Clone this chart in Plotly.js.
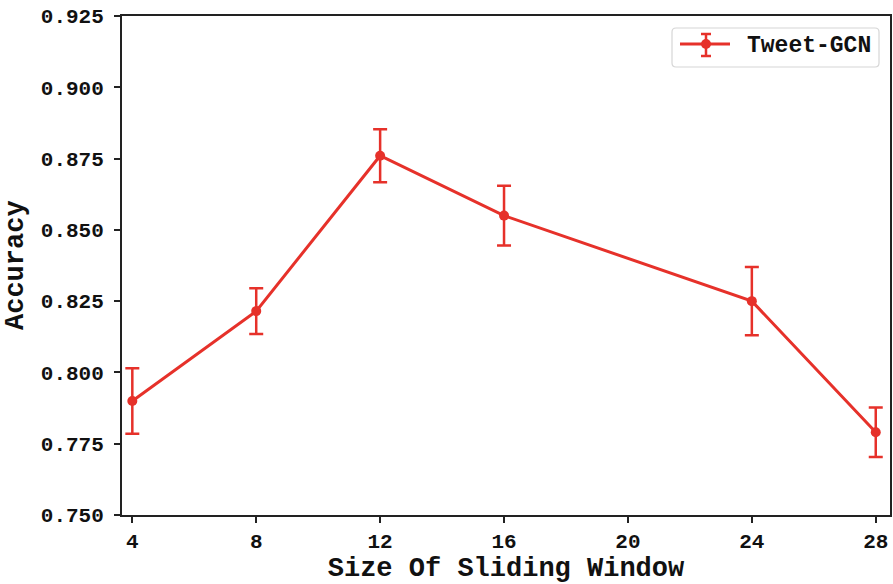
<!DOCTYPE html>
<html>
<head>
<meta charset="utf-8">
<script src="https://cdn.plot.ly/plotly-3.0.1.min.js"></script>
<style>
html,body{margin:0;padding:0;background:#fff;}
#chart{width:893px;height:584px;}
</style>
</head>
<body>
<div id="chart"></div>
<script>
var windowSizes = [4, 8, 12, 16, 24, 28];
var accuracy = [0.790, 0.8215, 0.876, 0.855, 0.825, 0.779];
var accuracyErr = [0.0115, 0.008, 0.0093, 0.0105, 0.012, 0.0087];
var xTicks = [4, 8, 12, 16, 20, 24, 28];
var yTicks = [0.750, 0.775, 0.800, 0.825, 0.850, 0.875, 0.900, 0.925];
var seriesName = 'Tweet-GCN';
var xTitle = 'Size Of Sliding Window';
var yTitle = 'Accuracy';

var red = '#e6312a';
var fontFam = '"Liberation Mono", "Courier New", monospace';

var W = 893, H = 584, M = {l: 122, r: 3, t: 16, b: 69};
var PW = W - M.l - M.r, PH = H - M.t - M.b;
function px(x) { return (x - M.l) / PW; }
function py(y) { return 1 - (y - M.t) / PH; }

var trace = {
  x: windowSizes,
  y: accuracy,
  name: seriesName,
  type: 'scatter',
  mode: 'lines+markers',
  line: {color: red, width: 3},
  marker: {color: red, size: 10},
  error_y: {type: 'data', array: accuracyErr, visible: true, color: red, thickness: 2.5, width: 7},
  showlegend: false
};

// manual legend (box with rounded corners, errorbar glyph, label)
var bx0 = 672, bx1 = 879, by0 = 28, by1 = 67, r = 4;
var boxPath = 'M' + px(bx0 + r) + ',' + py(by0) +
  ' L' + px(bx1 - r) + ',' + py(by0) +
  ' Q' + px(bx1) + ',' + py(by0) + ' ' + px(bx1) + ',' + py(by0 + r) +
  ' L' + px(bx1) + ',' + py(by1 - r) +
  ' Q' + px(bx1) + ',' + py(by1) + ' ' + px(bx1 - r) + ',' + py(by1) +
  ' L' + px(bx0 + r) + ',' + py(by1) +
  ' Q' + px(bx0) + ',' + py(by1) + ' ' + px(bx0) + ',' + py(by1 - r) +
  ' L' + px(bx0) + ',' + py(by0 + r) +
  ' Q' + px(bx0) + ',' + py(by0) + ' ' + px(bx0 + r) + ',' + py(by0) + ' Z';
var ly = 44, lcx = 706;
var shapes = [
  {type: 'path', xref: 'paper', yref: 'paper', path: boxPath, line: {color: '#d6d6d6', width: 1.2}, fillcolor: 'rgba(255,255,255,0.9)'},
  {type: 'line', xref: 'paper', yref: 'paper', x0: px(680), x1: px(730), y0: py(ly), y1: py(ly), line: {color: red, width: 3}},
  {type: 'line', xref: 'paper', yref: 'paper', x0: px(lcx), x1: px(lcx), y0: py(34), y1: py(56), line: {color: red, width: 2.5}},
  {type: 'line', xref: 'paper', yref: 'paper', x0: px(lcx - 5), x1: px(lcx + 5), y0: py(34), y1: py(34), line: {color: red, width: 2.5}},
  {type: 'line', xref: 'paper', yref: 'paper', x0: px(lcx - 5), x1: px(lcx + 5), y0: py(56), y1: py(56), line: {color: red, width: 2.5}},
  {type: 'circle', xref: 'paper', yref: 'paper', x0: px(lcx - 5), x1: px(lcx + 5), y0: py(ly - 5), y1: py(ly + 5), line: {color: red, width: 0}, fillcolor: red}
];
var annotations = [
  {xref: 'paper', yref: 'paper', x: px(745), y: py(46), xanchor: 'left', yanchor: 'middle', showarrow: false,
   text: seriesName, font: {family: fontFam, size: 23, color: '#111', weight: 'bold'}},
  {xref: 'paper', yref: 'paper', x: px(16), y: py(265), xanchor: 'center', yanchor: 'middle', showarrow: false,
   textangle: -90, text: yTitle, font: {family: fontFam, size: 27, color: '#111', weight: 'bold'}}
];

var layout = {
  width: W,
  height: H,
  margin: M,
  paper_bgcolor: '#fff',
  plot_bgcolor: '#fff',
  font: {family: fontFam, color: '#111', size: 21, weight: 'bold'},
  showlegend: false,
  shapes: shapes,
  annotations: annotations,
  xaxis: {
    range: [3.667, 28.46],
    tickvals: xTicks,
    ticktext: xTicks.map(String),
    ticks: 'outside', ticklen: 6, tickwidth: 1.5, tickcolor: '#222',
    showline: true, linecolor: '#222', linewidth: 2, mirror: true,
    showgrid: false, zeroline: false,
    tickfont: {family: fontFam, size: 21, color: '#111', weight: 'bold'},
    title: {text: xTitle, font: {family: fontFam, size: 27, color: '#111', weight: 'bold'}, standoff: 4}
  },
  yaxis: {
    range: [0.750, 0.925],
    tickvals: yTicks,
    ticktext: yTicks.map(function(v){return v.toFixed(3);}),
    ticks: 'outside', ticklen: 6, tickwidth: 1.5, tickcolor: '#222',
    ticklabelstandoff: 6,
    showline: true, linecolor: '#222', linewidth: 2, mirror: true,
    showgrid: false, zeroline: false,
    tickfont: {family: fontFam, size: 21, color: '#111', weight: 'bold'}
  }
};

Plotly.newPlot('chart', [trace], layout, {displayModeBar: false, responsive: false});
</script>
</body>
</html>
